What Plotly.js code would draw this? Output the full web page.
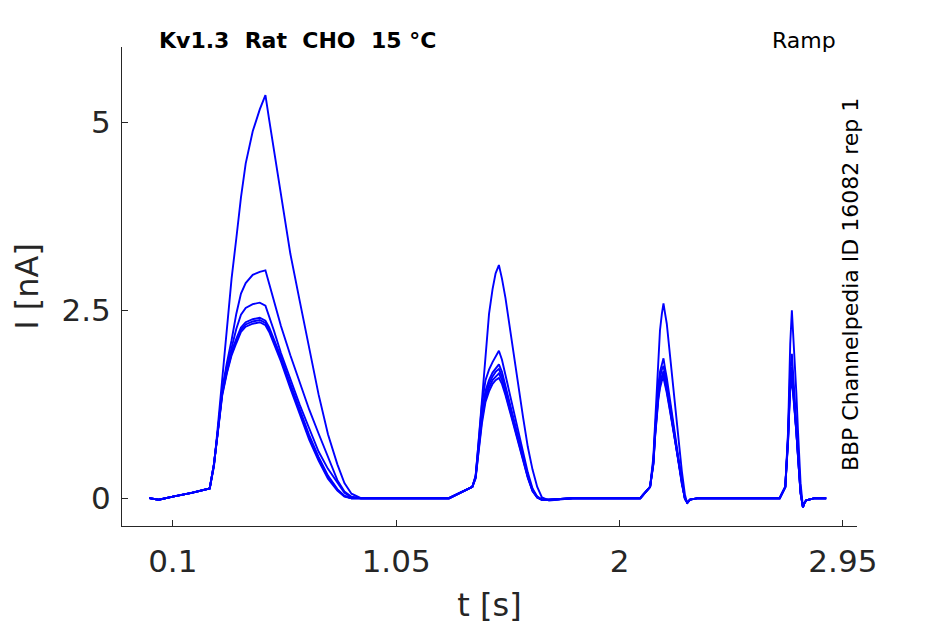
<!DOCTYPE html>
<html>
<head>
<meta charset="utf-8">
<script src="https://cdn.plot.ly/plotly-3.0.1.min.js"></script>
<style>
  html, body { margin: 0; padding: 0; background: #fff; }
  #chart { width: 945px; height: 624px; }
</style>
</head>
<body>
<div id="chart"></div>
<script>
// time [s], shared by all sweeps
const t = [
  0.00, 0.04, 0.10, 0.18, 0.257,
  0.275, 0.29, 0.31, 0.33, 0.35, 0.37, 0.39, 0.41, 0.44, 0.47, 0.494, 0.51, 0.53, 0.56, 0.60, 0.64, 0.68, 0.72, 0.76, 0.80, 0.83, 0.86, 0.90,
  1.00, 1.15, 1.275,
  1.374, 1.388, 1.40, 1.415, 1.43, 1.445, 1.46, 1.473, 1.487, 1.50, 1.515, 1.53, 1.55, 1.57, 1.59, 1.61, 1.63, 1.65, 1.67, 1.70,
  1.80, 1.95, 2.088,
  2.13, 2.144, 2.151, 2.158, 2.165, 2.172, 2.18, 2.187, 2.194, 2.201, 2.215, 2.23, 2.25, 2.265, 2.278, 2.288, 2.30,
  2.335, 2.45, 2.56, 2.681,
  2.705, 2.711, 2.717, 2.722, 2.726, 2.733, 2.739, 2.745, 2.752, 2.759, 2.765, 2.770, 2.780, 2.787, 2.794,
  2.83, 2.879
];

// current [nA], one array per sweep
const iA = [
  0, -0.02, 0.02, 0.07, 0.13,
  0.42, 0.9, 1.58, 2.25, 2.92, 3.45, 4.0, 4.45, 4.88, 5.17, 5.36, 5.03, 4.62, 4.05, 3.25, 2.62, 1.99, 1.38, 0.85, 0.45, 0.2, 0.06, 0,
  0, 0, 0,
  0.15, 0.28, 0.73, 1.33, 1.96, 2.45, 2.78, 2.99, 3.1, 2.92, 2.66, 2.33, 1.9, 1.48, 1.07, 0.68, 0.38, 0.15, 0.01, -0.03,
  0, 0, 0,
  0.15, 0.55, 0.98, 1.44, 1.85, 2.23, 2.45, 2.59, 2.45, 2.32, 1.89, 1.42, 0.77, 0.36, 0.05, -0.07, -0.02,
  0, 0, 0, 0,
  0.15, 0.5, 0.9, 1.55, 2.05, 2.5, 2.2, 1.88, 1.4, 0.9, 0.5, 0.2, -0.12, -0.06, -0.03,
  0, 0
];
const iB = [
  0, -0.02, 0.02, 0.07, 0.13,
  0.45, 0.85, 1.45, 1.8, 2.1, 2.45, 2.72, 2.86, 2.97, 3.01, 3.03, 2.85, 2.62, 2.29, 1.9, 1.54, 1.18, 0.86, 0.55, 0.24, 0.09, 0.02, 0,
  0, 0, 0,
  0.15, 0.3, 0.72, 1.25, 1.57, 1.71, 1.81, 1.88, 1.96, 1.84, 1.64, 1.42, 1.15, 0.88, 0.62, 0.34, 0.13, 0.02, -0.02, -0.02,
  0, 0, 0,
  0.15, 0.5, 0.9, 1.25, 1.5, 1.68, 1.8, 1.86, 1.72, 1.6, 1.3, 0.97, 0.55, 0.22, 0, -0.06, -0.02,
  0, 0, 0, 0,
  0.15, 0.48, 0.85, 1.35, 1.7, 1.92, 1.62, 1.35, 1.02, 0.65, 0.33, 0.1, -0.12, -0.06, -0.03,
  0, 0
];
const iC = [
  0, -0.02, 0.02, 0.07, 0.13,
  0.45, 0.85, 1.42, 1.75, 2.02, 2.25, 2.44, 2.53, 2.58, 2.6, 2.56, 2.42, 2.23, 1.93, 1.58, 1.24, 0.93, 0.62, 0.39, 0.2, 0.07, 0.01, 0,
  0, 0, 0,
  0.15, 0.29, 0.68, 1.15, 1.43, 1.57, 1.67, 1.73, 1.78, 1.68, 1.5, 1.3, 1.05, 0.8, 0.56, 0.3, 0.11, 0.02, -0.02, -0.02,
  0, 0, 0,
  0.15, 0.48, 0.86, 1.19, 1.43, 1.6, 1.71, 1.76, 1.64, 1.52, 1.24, 0.93, 0.52, 0.2, 0, -0.06, -0.02,
  0, 0, 0, 0,
  0.15, 0.47, 0.82, 1.28, 1.58, 1.75, 1.5, 1.26, 0.96, 0.6, 0.3, 0.08, -0.12, -0.06, -0.03,
  0, 0
];
const iD = [
  0, -0.02, 0.02, 0.07, 0.13,
  0.45, 0.85, 1.4, 1.7, 1.95, 2.12, 2.27, 2.34, 2.38, 2.4, 2.36, 2.27, 2.12, 1.88, 1.52, 1.17, 0.84, 0.55, 0.3, 0.12, 0.03, 0, 0,
  0, 0, 0,
  0.15, 0.28, 0.65, 1.1, 1.38, 1.52, 1.62, 1.68, 1.72, 1.62, 1.45, 1.26, 1.02, 0.78, 0.54, 0.29, 0.1, 0.01, -0.02, -0.02,
  0, 0, 0,
  0.15, 0.47, 0.84, 1.15, 1.38, 1.54, 1.64, 1.69, 1.58, 1.47, 1.2, 0.9, 0.5, 0.19, 0, -0.06, -0.02,
  0, 0, 0, 0,
  0.15, 0.46, 0.8, 1.24, 1.52, 1.68, 1.45, 1.22, 0.93, 0.58, 0.29, 0.07, -0.12, -0.06, -0.03,
  0, 0
];
const iE = [
  0, -0.02, 0.02, 0.07, 0.13,
  0.45, 0.84, 1.38, 1.68, 1.92, 2.09, 2.24, 2.31, 2.35, 2.37, 2.33, 2.24, 2.09, 1.85, 1.49, 1.14, 0.81, 0.52, 0.28, 0.11, 0.03, 0, 0,
  0, 0, 0,
  0.15, 0.27, 0.62, 1.05, 1.33, 1.47, 1.57, 1.62, 1.66, 1.57, 1.41, 1.22, 0.99, 0.75, 0.52, 0.28, 0.1, 0.01, -0.02, -0.02,
  0, 0, 0,
  0.15, 0.46, 0.82, 1.12, 1.34, 1.5, 1.6, 1.64, 1.54, 1.43, 1.17, 0.88, 0.49, 0.18, -0.01, -0.06, -0.02,
  0, 0, 0, 0,
  0.15, 0.45, 0.78, 1.2, 1.47, 1.62, 1.41, 1.19, 0.9, 0.56, 0.28, 0.07, -0.12, -0.06, -0.03,
  0, 0
];
const iF = [
  0, -0.02, 0.02, 0.07, 0.13,
  0.44, 0.83, 1.36, 1.66, 1.9, 2.06, 2.21, 2.28, 2.32, 2.34, 2.3, 2.21, 2.06, 1.82, 1.46, 1.11, 0.78, 0.5, 0.26, 0.1, 0.02, 0, 0,
  0, 0, 0,
  0.15, 0.26, 0.6, 1.0, 1.28, 1.42, 1.52, 1.57, 1.6, 1.52, 1.37, 1.19, 0.96, 0.73, 0.5, 0.27, 0.09, 0.01, -0.02, -0.02,
  0, 0, 0,
  0.15, 0.45, 0.8, 1.1, 1.31, 1.46, 1.56, 1.6, 1.5, 1.4, 1.15, 0.86, 0.48, 0.18, -0.01, -0.06, -0.02,
  0, 0, 0, 0,
  0.15, 0.44, 0.76, 1.17, 1.43, 1.58, 1.38, 1.16, 0.88, 0.55, 0.27, 0.06, -0.12, -0.06, -0.03,
  0, 0
];

const sweeps = [iF, iE, iD, iC, iB, iA];
const xTicks = [0.1, 1.05, 2, 2.95];
const xTickText = ['0.1', '1.05', '2', '2.95'];
const yTicks = [0, 2.5, 5];
const yTickText = ['0', '2.5', '5'];

const FONT = 'DejaVu Sans, sans-serif';
const INK = '#262626';

const traces = sweeps.map(y => ({
  x: t, y: y,
  type: 'scatter', mode: 'lines',
  line: { color: '#0000ff', width: 1.9 },
  hoverinfo: 'skip',
}));

const axisBase = {
  showgrid: false, zeroline: false,
  showline: true, linecolor: INK, linewidth: 1,
  ticks: 'inside', ticklen: 6, tickcolor: INK, tickwidth: 1,
  tickfont: { family: FONT, size: 31, color: INK },
};

Plotly.newPlot('chart', traces, {
  width: 945, height: 624,
  margin: { l: 122, r: 88, t: 47, b: 98 },
  paper_bgcolor: '#fff', plot_bgcolor: '#fff',
  showlegend: false,
  xaxis: {
    ...axisBase,
    range: [-0.116, 3.01],
    tickvals: xTicks, ticktext: xTickText,
    ticklabelstandoff: 8,
    title: { text: 't [s]', font: { family: FONT, size: 32, color: INK }, standoff: 16 },
  },
  yaxis: {
    ...axisBase,
    range: [-0.37, 6.0],
    tickvals: yTicks, ticktext: yTickText,
    ticklabelstandoff: 4,
    title: { text: 'I [nA]', font: { family: FONT, size: 32, color: INK }, standoff: 13 },
  },
  annotations: [{
    xref: 'paper', yref: 'paper', x: 0.047, y: 1.0146,
    xanchor: 'left', yanchor: 'middle', showarrow: false,
    text: '<b>Kv1.3\u00a0\u00a0Rat\u00a0\u00a0CHO\u00a0\u00a015 °C</b>',
    font: { family: FONT, size: 22, color: '#000' },
  }, {
    xref: 'paper', yref: 'paper', x: 0.974, y: 1.0146,
    xanchor: 'right', yanchor: 'middle', showarrow: false,
    text: 'Ramp',
    font: { family: FONT, size: 22, color: '#000' },
  }, {
    xref: 'paper', yref: 'paper', x: 0.9905, y: 0.503,
    xanchor: 'center', yanchor: 'middle', showarrow: false,
    textangle: -90,
    text: 'BBP Channelpedia ID 16082 rep 1',
    font: { family: FONT, size: 22, color: '#000' },
  }],
}, { displayModeBar: false, staticPlot: true });
</script>
</body>
</html>
